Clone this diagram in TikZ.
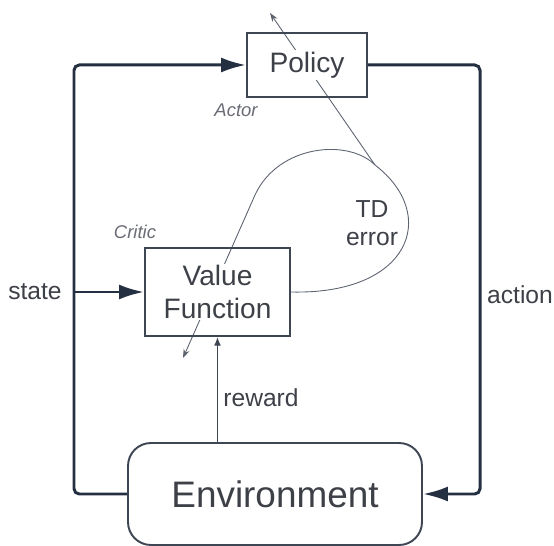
\documentclass[tikz,border=0pt]{standalone}
\usepackage{fontspec}
\setmainfont{Liberation Sans}
\usepackage{tikz}
\usetikzlibrary{arrows.meta, positioning, backgrounds}
\definecolor{flownavy}{RGB}{36,48,66}
\definecolor{boxgray}{RGB}{62,70,84}
\definecolor{txtgray}{RGB}{62,64,72}
\definecolor{rolegray}{RGB}{105,108,116}
\definecolor{tdgray}{RGB}{92,98,110}
\tikzset{
  box/.style={rectangle, draw=boxgray, line width=1.1pt},
  boxtext/.style={fill=white, inner sep=1pt, align=center, text=txtgray,
    font=\fontsize{16}{18.5}\selectfont},
  envbox/.style={rectangle, draw=boxgray, line width=1.1pt, rounded corners=13pt,
    minimum width=5.88cm, minimum height=2.04cm, text=txtgray,
    font=\fontsize{21}{24}\selectfont},
  mainflow/.style={-{Latex[length=0.5cm, width=0.3cm]}, line width=1.7pt,
    color=flownavy, rounded corners=3pt},
  rewardline/.style={-{Latex[length=5pt, width=4pt]}, line width=0.8pt, color=boxgray},
  tdline/.style={-{Stealth[length=5pt, width=3.5pt]}, line width=0.5pt, color=tdgray},
  flowlabel/.style={text=txtgray, font=\fontsize{14}{16}\selectfont, align=center},
  rolelabel/.style={text=rolegray, font=\fontsize{10.5}{12}\selectfont\itshape}
}

\begin{document}
\begin{tikzpicture}[x=0.02cm, y=-0.02cm]
    \useasboundingbox (0,0) rectangle (554,546);

    % Boxes
    \node[box, minimum width=2.4cm, minimum height=1.28cm,
      label={[boxtext]center:Policy}] (policy) at (307,65) {};
    \node[box, minimum width=2.9cm, minimum height=1.76cm,
      label={[boxtext]center:{Value\\Function}}] (value) at (217.5,292) {};
    \node[envbox] (env) at (275,494) {Environment};

    % Roles
    \node[rolelabel] (actorlbl) at (236,110) {Actor};
    \node[rolelabel] (criticlbl) at (135,232) {Critic};

    % Loop lines
    \coordinate (lx) at (74,0);
    \coordinate (rx) at (480,0);
    \draw[mainflow] (env.west) -- (env.west -| lx) -- (policy.west -| lx) -- (policy.west);
    \draw[mainflow] (value.west -| lx) -- (value.west);
    \draw[mainflow] (policy.east) -- (policy.east -| rx) -- (env.east -| rx) -- (env.east);
    \draw[rewardline] (value.south |- env.north) -- (value.south);

    \node[flowlabel] (statelbl) at (35,292) {state};
    \node[flowlabel] (actionlbl) at (520,295) {action};
    \node[flowlabel] (rewardlbl) at (261,398) {reward};
    \node[flowlabel] (tdlbl) at (372,223) {TD\\error};

    % TD error
    \coordinate (td) at (375,165);
    \coordinate (actortip) at (270,13);
    \coordinate (critictip) at (183,358);
    \begin{scope}[on background layer]
      \draw[tdline] (value.east) .. controls (410,295) and (440,215) .. (td)
        .. controls (348,138) and (278,145) .. (255,195) -- (critictip);
      \draw[tdline] (td) -- (actortip);
    \end{scope}
\end{tikzpicture}
\end{document}
